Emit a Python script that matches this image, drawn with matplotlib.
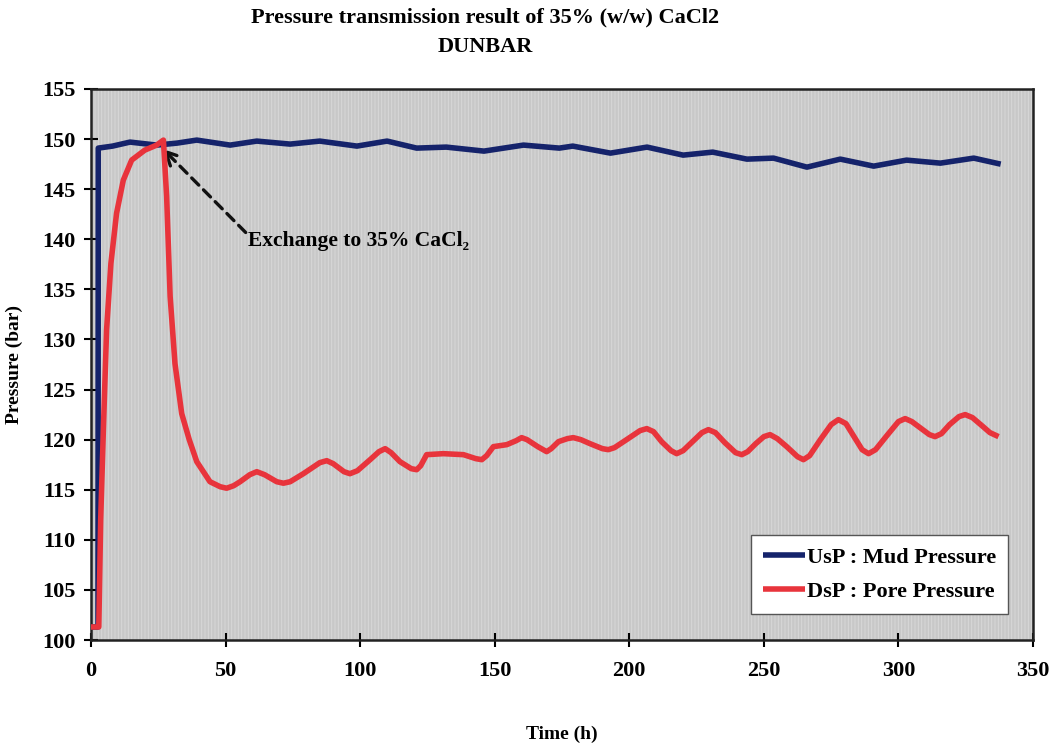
import matplotlib
matplotlib.use("Agg")
import matplotlib.pyplot as plt
from matplotlib.patches import Rectangle

# UsP : mud pressure (bar) against time (h)
usp_time = [0, 2.6, 2.7, 8, 14.5, 24.4, 32, 39.3, 51.7, 61.6, 74, 85, 98.8,
            110, 121, 132, 146, 160.7, 174, 179, 193, 206.6, 220, 231, 243.7,
            253.6, 266, 278.4, 290.8, 303, 315.6, 328, 338]
usp_pressure = [101.3, 101.3, 149.1, 149.3, 149.7, 149.4, 149.6, 149.9, 149.4,
                149.8, 149.5, 149.8, 149.3, 149.8, 149.1, 149.2, 148.8, 149.4,
                149.1, 149.3, 148.6, 149.2, 148.4, 148.7, 148.0, 148.1, 147.2,
                148.0, 147.3, 147.9, 147.6, 148.1, 147.5]

# DsP : pore pressure (bar) against time (h)
dsp_time = [0, 2.9, 3.6, 4.6, 5.8, 7.4, 9.5, 12, 15.1, 20, 24.4, 26.9, 28.1,
            29.4, 31.2, 33.7, 36.5, 39.3, 44.2, 48, 50.4, 53, 55.4, 59, 61.6,
            64.5, 69, 71.5, 74, 78.9, 85, 87.6, 90, 94, 96.2, 99, 103.7, 107,
            109.3, 111.5, 114.8, 119, 121, 122.5, 124.7, 130.9, 138.4, 143,
            145.2, 147, 149.5, 154.5, 158, 160, 162, 166, 169.3, 171, 173.7,
            177, 179.2, 182, 185.4, 190, 192.2, 194.5, 199, 204, 206.5, 209,
            212, 215.5, 217.6, 220, 223.5, 227, 229.4, 232, 235.5, 239.5,
            241.8, 244, 247, 250, 252.3, 255, 258.5, 262.5, 264.7, 267, 271,
            275, 277.7, 280.5, 283.5, 286.5, 288.9, 291.5, 296, 300, 302.5,
            305, 308, 311.5, 313.6, 316, 319, 322.5, 324.8, 327.5, 331, 334,
            337.2]
dsp_pressure = [101.3, 101.3, 112, 121, 131, 137.6, 142.6, 145.9, 147.9,
                148.9, 149.4, 149.9, 144.3, 134.3, 127.6, 122.6, 120.0, 117.8,
                115.8, 115.3, 115.15, 115.4, 115.8, 116.5, 116.8, 116.5, 115.8,
                115.65, 115.8, 116.6, 117.7, 117.9, 117.6, 116.8, 116.6, 116.9,
                118.0, 118.8, 119.1, 118.7, 117.8, 117.1, 117.0, 117.4, 118.5,
                118.6, 118.5, 118.1, 118.0, 118.4, 119.3, 119.5, 119.9, 120.2,
                120.0, 119.3, 118.8, 119.1, 119.8, 120.1, 120.2, 120.0, 119.6,
                119.1, 119.0, 119.2, 120.0, 120.9, 121.1, 120.8, 119.8, 118.9,
                118.6, 118.9, 119.8, 120.7, 121.0, 120.7, 119.7, 118.7, 118.5,
                118.8, 119.6, 120.3, 120.5, 120.1, 119.3, 118.3, 118.0, 118.4,
                120.0, 121.5, 122.0, 121.6, 120.3, 119.0, 118.6, 119.0, 120.5,
                121.8, 122.1, 121.8, 121.2, 120.5, 120.3, 120.6, 121.5, 122.3,
                122.5, 122.2, 121.4, 120.7, 120.3]

x_ticks = [0, 50, 100, 150, 200, 250, 300, 350]
y_ticks = [100, 105, 110, 115, 120, 125, 130, 135, 140, 145, 150, 155]

serif = ["Liberation Serif", "DejaVu Serif"]
plt.rcParams["font.family"] = serif
plt.rcParams["font.weight"] = "bold"
plt.rcParams["hatch.color"] = "#d8d8d8"
plt.rcParams["hatch.linewidth"] = 0.7

fig = plt.figure(figsize=(10.5, 7.49), dpi=100)
ax = fig.add_axes([91 / 1050, 1 - 640 / 749, 942 / 1050, 551 / 749])

# grey plot area with fine vertical striping
ax.set_facecolor("#c8c8c8")
ax.add_patch(Rectangle((0, 0), 1, 1, transform=ax.transAxes, facecolor="none",
                       edgecolor="#d8d8d8", hatch="|||||", linewidth=0, zorder=0))

ax.plot(usp_time, usp_pressure, color="#15236b", lw=4.0,
        solid_joinstyle="round", solid_capstyle="butt", label="UsP : Mud Pressure",
        zorder=3)
ax.plot(dsp_time, dsp_pressure, color="#e8343c", lw=4.0,
        solid_joinstyle="round", solid_capstyle="butt", label="DsP : Pore Pressure",
        zorder=4)

ax.set_xlim(0, 350)
ax.set_ylim(100, 155)
ax.set_xticks(x_ticks)
ax.set_yticks(y_ticks)
ax.tick_params(axis="both", direction="inout", length=10, width=1.5,
               labelsize=16, pad=6)
ax.tick_params(axis="x", pad=10)
for sp in ax.spines.values():
    sp.set_linewidth(1.8)
    sp.set_color("#222222")
for lab in ax.get_xticklabels() + ax.get_yticklabels():
    lab.set_fontweight("bold")

ax.set_xlabel("Time (h)", fontsize=14, fontweight="bold", labelpad=32)
ax.set_ylabel("Pressure (bar)", fontsize=14, fontweight="bold", labelpad=14)

# arrow marking the switch to the CaCl2 solution
ax.annotate("Exchange to 35% CaCl\u2082", xy=(26.8, 149.0), xytext=(58.5, 139.8),
            fontsize=15.5, fontweight="bold", va="center", ha="left",
            arrowprops=dict(arrowstyle="->", color="#111111", lw=2.4,
                            linestyle=(0, (3, 2)), mutation_scale=24,
                            shrinkA=0, shrinkB=0, relpos=(0.0, 0.8)))

leg = ax.legend(loc="lower right", bbox_to_anchor=(0.9735, 0.047),
                borderaxespad=0.0,
                prop={"family": serif, "weight": "bold", "size": 16},
                frameon=True, fancybox=False, handlelength=1.9,
                handletextpad=0.05, borderpad=0.55, labelspacing=0.6,
                framealpha=1.0)
leg.get_frame().set_facecolor("white")
leg.get_frame().set_edgecolor("#555555")
leg.get_frame().set_linewidth(1.0)

fig.text(0.462, 0.977, "Pressure transmission result of 35% (w/w) CaCl2",
         ha="center", va="center", fontsize=16, fontweight="bold")
fig.text(0.462, 0.937, "DUNBAR", ha="center", va="center",
         fontsize=16, fontweight="bold")

fig.savefig("out.png", dpi=100, facecolor="white")
